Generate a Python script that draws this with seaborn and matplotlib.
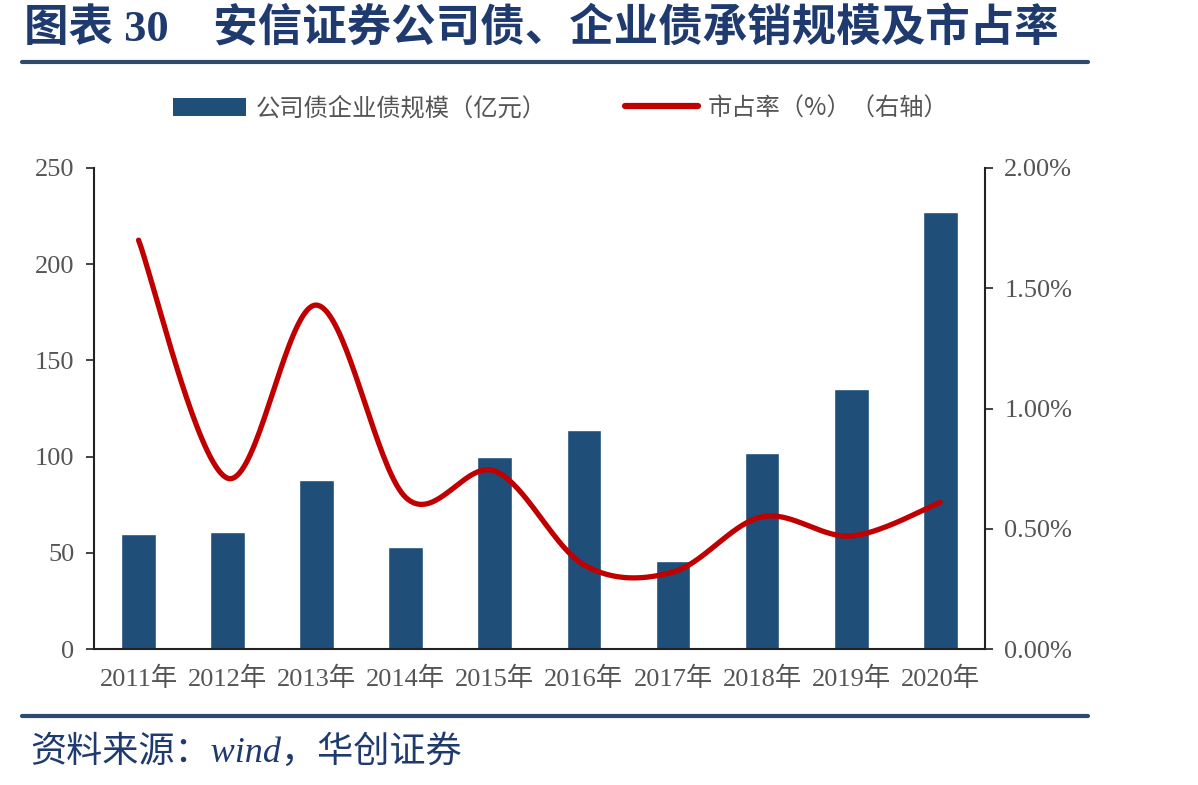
import numpy as np
import pandas as pd
import matplotlib
matplotlib.use('Agg')
import matplotlib.pyplot as plt
import seaborn as sns
from matplotlib.lines import Line2D
from matplotlib.patches import Patch

years = ['2011年', '2012年', '2013年', '2014年', '2015年',
         '2016年', '2017年', '2018年', '2019年', '2020年']
scale = [60, 61, 88, 53, 100, 114, 46, 102, 135, 227]  # 亿元
share = [1.70, 0.71, 1.43, 0.63, 0.74, 0.35, 0.32, 0.55, 0.47, 0.61]  # %

bar_color = '#1F4E79'
line_color = '#C00000'
navy = '#1F3A6E'

sns.set_style('white')
plt.rcParams['font.family'] = ['Liberation Serif', 'Noto Sans CJK SC']
plt.rcParams['axes.unicode_minus'] = False

fig = plt.figure(figsize=(11.98, 7.85), dpi=100)
ax = fig.add_axes([0.0785, 0.1732, 0.7435, 0.6128])

df = pd.DataFrame({'year': years, 'scale': scale})
sns.barplot(data=df, x='year', y='scale', color=bar_color, width=0.39,
            saturation=1, ax=ax)
ax.set_xlim(-0.5, len(years) - 0.5)
ax.set_ylim(0, 250)
ax.set_yticks(np.arange(0, 251, 50))
ax.set_xlabel('')
ax.set_ylabel('')

# x ticks between categories
ax.set_xticks(np.arange(-0.5, len(years), 1), minor=False)
ax.set_xticklabels([])
ax.set_xticks(np.arange(len(years)), minor=True)
ax.set_xticklabels(years, minor=True)
ax.tick_params(axis='x', which='major', direction='out', length=6, width=1.2, color='#222222')
ax.tick_params(axis='x', which='minor', length=0, pad=13, labelsize=19, labelcolor='#555555')
ax.tick_params(axis='y', direction='out', length=6, width=1.2, color='#222222',
               labelsize=19, labelcolor='#555555', pad=8)
for s in ['top', 'right']:
    ax.spines[s].set_visible(False)
for s in ['left', 'bottom']:
    ax.spines[s].set_color('#222222')
    ax.spines[s].set_linewidth(1.5)

ax2 = ax.twinx()
ax2.set_ylim(0, 2.0)
ax2.set_yticks([0, 0.5, 1.0, 1.5, 2.0])
ax2.set_yticklabels(['0.00%', '0.50%', '1.00%', '1.50%', '2.00%'])
ax2.tick_params(axis='y', direction='out', length=6, width=1.2, color='#222222',
                labelsize=19, labelcolor='#555555', pad=8)
for s in ['top', 'left', 'bottom']:
    ax2.spines[s].set_visible(False)
ax2.spines['right'].set_color('#222222')
ax2.spines['right'].set_linewidth(1.5)

# smoothed line (Bezier through the data points, like office chart smoothing)
xs = np.arange(len(share), dtype=float)
ys = np.array(share, dtype=float)
px = np.concatenate([[xs[0]], xs, [xs[-1]]])
py = np.concatenate([[ys[0]], ys, [ys[-1]]])
cx, cy = [], []
t = np.linspace(0, 1, 40)
for i in range(len(xs) - 1):
    p0 = np.array([px[i + 1], py[i + 1]])
    p3 = np.array([px[i + 2], py[i + 2]])
    p1 = p0 + (p3 - np.array([px[i], py[i]])) / 6
    p2 = p3 - (np.array([px[i + 3], py[i + 3]]) - p0) / 6
    seg = ((1 - t) ** 3)[:, None] * p0 + (3 * (1 - t) ** 2 * t)[:, None] * p1 \
        + (3 * (1 - t) * t ** 2)[:, None] * p2 + (t ** 3)[:, None] * p3
    cx.extend(seg[:, 0])
    cy.extend(seg[:, 1])
ax2.plot(cx, cy, color=line_color, lw=3.8, solid_capstyle='round')

# legend
handles = [Patch(facecolor=bar_color, edgecolor='none'),
           Line2D([0], [0], color=line_color, lw=4.5, solid_capstyle='round')]
labels = ['公司债企业债规模（亿元）', '市占率（%）（右轴）']
fig.legend(handles, labels, loc='center', bbox_to_anchor=(0.468, 0.862), ncol=2,
           frameon=False, labelcolor='#555555', handlelength=3.0,
           handleheight=0.8, handletextpad=0.4, columnspacing=3.2,
           prop={'family': ['Noto Sans CJK SC'], 'size': 17.5})

# title, rules and source
fig.text(0.02, 0.963, '图表 30　安信证券公司债、企业债承销规模及市占率',
         fontsize=32, fontweight='bold', color=navy, va='center', ha='left',
         family=['Liberation Serif', 'Noto Sans CJK SC'])
fig.add_artist(Line2D([0.018, 0.908], [0.921, 0.921], color='#2E4A6E', lw=3))
fig.add_artist(Line2D([0.018, 0.908], [0.088, 0.088], color='#2E4A6E', lw=3))
fig.text(0.025, 0.042, '资料来源：wind，华创证券', fontsize=26, style='italic',
         color=navy, va='center', ha='left',
         family=['Liberation Serif', 'Noto Sans CJK SC'])

fig.savefig('out.png', dpi=100)
